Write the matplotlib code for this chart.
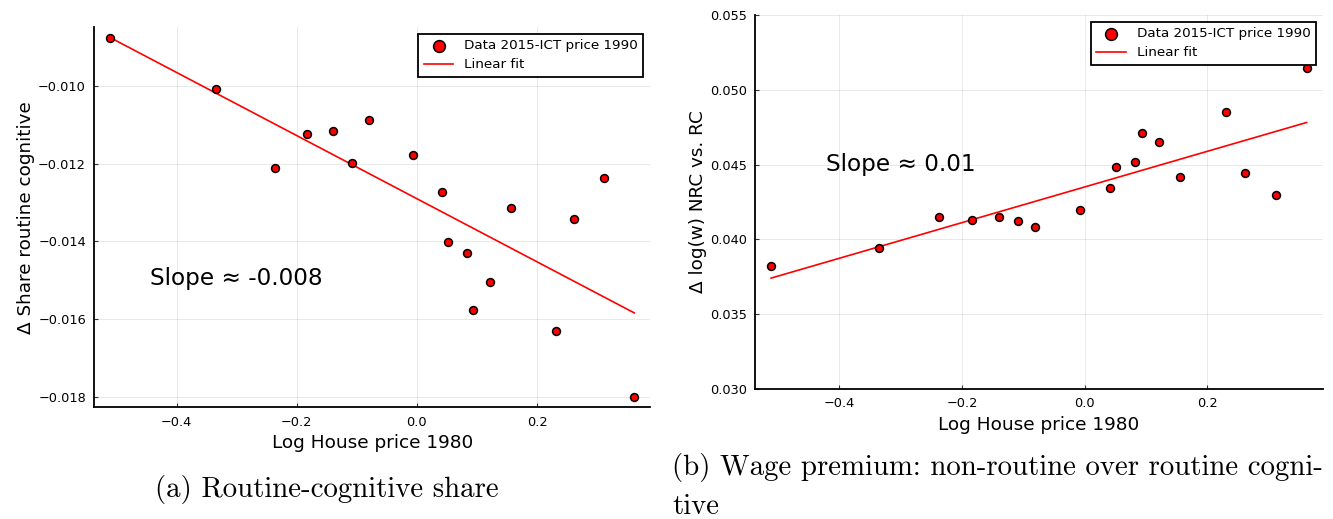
import numpy as np
import matplotlib
matplotlib.use("Agg")
import matplotlib.pyplot as plt
from matplotlib.ticker import FuncFormatter

# ---- data: log house price 1980 (shared x) ----
house_price = [-0.511, -0.335, -0.237, -0.183, -0.140, -0.108, -0.080,
               -0.007, 0.041, 0.052, 0.083, 0.093, 0.122, 0.156,
               0.231, 0.261, 0.312, 0.362]

# change in routine-cognitive share
share_rc = [-0.00877, -0.01009, -0.01212, -0.01125, -0.01116, -0.01199, -0.01088,
            -0.01178, -0.01274, -0.01401, -0.01431, -0.01577, -0.01505, -0.01315,
            -0.01630, -0.01342, -0.01236, -0.01799]

# change in log wage, non-routine vs routine cognitive
wage_nrc_rc = [0.03819, 0.03940, 0.04147, 0.04129, 0.04149, 0.04120, 0.04080,
               0.04196, 0.04345, 0.04486, 0.04515, 0.04711, 0.04649, 0.04417,
               0.04852, 0.04442, 0.04296, 0.05148]

xticks = [-0.4, -0.2, 0.0, 0.2]
yticks_a = [-0.010, -0.012, -0.014, -0.016, -0.018]
yticks_b = [0.030, 0.035, 0.040, 0.045, 0.050, 0.055]

legend_labels = ["Data 2015-ICT price 1990", "Linear fit"]


def minus_fmt(nd):
    return FuncFormatter(lambda v, p: f"{v:.{nd}f}".replace("-", "\u2212"))


def panel(ax, x, y, ylabel, slope_txt, text_y, ylim=None):
    x = np.array(x)
    y = np.array(y)
    b, a = np.polyfit(x, y, 1)
    xs = np.array([x.min(), x.max()])

    ax.scatter(x, y, s=32, c="red", edgecolors="black", linewidths=1.1,
               zorder=3, label=legend_labels[0])
    ax.plot(xs, a + b * xs, color="red", lw=1.2, zorder=2, label=legend_labels[1])

    # 3% padding on each side, like the Plots.jl default
    span = x.max() - x.min()
    ax.set_xlim(x.min() - 0.03 * span, x.max() + 0.03 * span)
    if ylim is None:
        yspan = y.max() - y.min()
        ax.set_ylim(y.min() - 0.03 * yspan, y.max() + 0.03 * yspan)
    else:
        ax.set_ylim(*ylim)

    ax.text(-0.30, text_y, slope_txt, fontsize=16.7, ha="center", va="center")

    ax.set_xticks(xticks)
    ax.xaxis.set_major_formatter(minus_fmt(1))
    ax.grid(True, color="black", alpha=0.1, lw=0.6)
    for s in ["top", "right"]:
        ax.spines[s].set_visible(False)
    for s in ["left", "bottom"]:
        ax.spines[s].set_linewidth(1.3)
    ax.tick_params(direction="in", length=3, width=0.8, labelsize=9.3,
                   colors="#333333", labelcolor="black", pad=6)
    ax.set_xlabel("Log House price 1980", fontsize=13.3, labelpad=4)
    ax.set_ylabel(ylabel, fontsize=13.2, labelpad=2)

    leg = ax.legend(loc="upper right", fontsize=9.7, fancybox=False, framealpha=1,
                    edgecolor="black", markerscale=1.5, borderpad=0.4,
                    handlelength=2.2, labelspacing=0.45)
    leg.get_frame().set_linewidth(1.3)


fig = plt.figure(figsize=(13.33, 5.19), dpi=100)

ax1 = fig.add_axes([94.3 / 1333, 1 - 407.3 / 519, (650 - 94.3) / 1333, (407.3 - 27.3) / 519])
ax2 = fig.add_axes([755 / 1333, 1 - 388.7 / 519, (1322.7 - 755) / 1333, (388.7 - 15.3) / 519])

panel(ax1, house_price, share_rc, "Δ Share routine cognitive", "Slope ≈ -0.008", -0.01496)
ax1.set_yticks(yticks_a)
ax1.yaxis.set_major_formatter(minus_fmt(3))

panel(ax2, house_price, wage_nrc_rc, "Δ log(w) NRC vs. RC", "Slope ≈ 0.01", 0.04504,
      ylim=(0.030, 0.055))
ax2.set_yticks(yticks_b)
ax2.yaxis.set_major_formatter(minus_fmt(3))

# sub-figure captions
fig.text(327 / 1333, 1 - 490 / 519, "(a) Routine-cognitive share",
         family="cmr10", fontsize=20.8, ha="center", va="center")
fig.text(672 / 1333, 1 - 467 / 519, "(b) Wage premium: non-routine over routine cogni-",
         family="cmr10", fontsize=20.8, ha="left", va="center")
fig.text(672 / 1333, 1 - 507 / 519, "tive",
         family="cmr10", fontsize=20.8, ha="left", va="center")

fig.savefig("out.png", dpi=100)
